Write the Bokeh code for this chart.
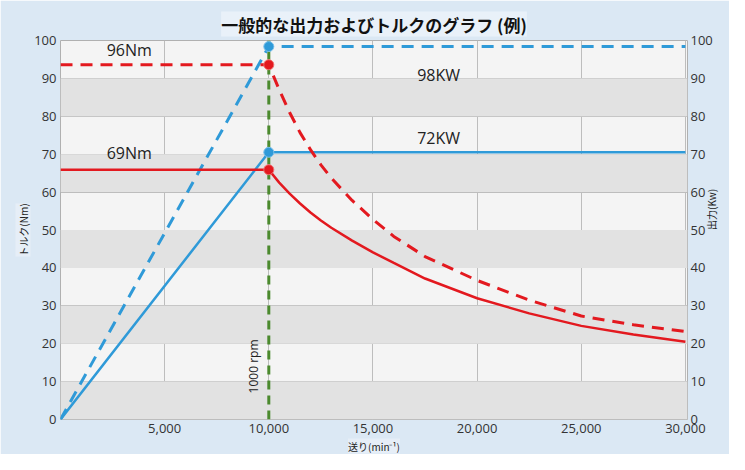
import math
from bokeh.plotting import figure
from bokeh.models import Range1d, LinearAxis, FixedTicker, NumeralTickFormatter, BoxAnnotation, Label, Title
from bokeh.embed import file_html
from bokeh.resources import INLINE

# ---- data ----
power_x = [0, 10000, 30000]
power_max = [0, 98.4, 98.4]        # kW (dashed blue)
power_rated = [0, 70.5, 70.5]      # kW (solid blue)

torque_x = [0, 10000, 10500, 11000, 11500, 12000, 12500, 13000, 14000, 15000, 16000, 17500, 20000, 22500, 25000, 27500, 30000]
torque_max = [93.6, 93.6, 87.0, 81.0, 75.7, 71.2, 67.2, 63.7, 57.8, 52.8, 48.3, 43.0, 36.7, 31.5, 27.3, 25.0, 23.2]
torque_rated = [65.9, 65.9, 62.5, 59.6, 57.0, 54.6, 52.5, 50.6, 47.2, 44.1, 41.3, 37.2, 32.0, 28.0, 24.7, 22.4, 20.5]

base_rpm = 10000
marker_x = [10000, 10000]
marker_power = [98.4, 70.5]
marker_torque = [93.6, 65.9]

y_ticks = [0, 10, 20, 30, 40, 50, 60, 70, 80, 90, 100]
x_ticks = [5000, 10000, 15000, 20000, 25000, 30000]
gray_bands = [0, 20, 40, 60, 80]

title_text = "一般的な出力およびトルクのグラフ (例)"
y_label = "トルク(Nm)"
y2_label = "出力(Kw)"
x_label = "送り(min⁻¹)"

BLUE = "#2f9ad8"
RED = "#e3191f"
GREEN = "#4b8a2e"
FONT = "Open Sans"
JP = "Noto Sans CJK JP"

p = figure(width=729, height=454, output_backend="svg", toolbar_location=None,
           x_range=Range1d(0, 30100), y_range=Range1d(0, 100),
           min_border_left=60, min_border_right=39, min_border_top=40, min_border_bottom=34)
p.border_fill_color = "#dbe8f4"
p.background_fill_color = "#f4f4f4"
p.outline_line_color = "#b0b0b0"

p.title.text = title_text
p.title.text_font = JP
p.title.text_font_size = "17px"
p.title.text_font_style = "bold"
p.title.text_color = "#111111"
p.title.align = "center"
p.title.standoff = 8
p.title.background_fill_color = "#e9f1f9"

for b in gray_bands:
    p.add_layout(BoxAnnotation(bottom=b, top=b + 10, fill_color="#e2e2e2", fill_alpha=1.0, line_alpha=0, level="underlay"))

p.xgrid.ticker = FixedTicker(ticks=x_ticks)
p.ygrid.ticker = FixedTicker(ticks=y_ticks)
p.xgrid.grid_line_color = "#bdbdbd"
p.ygrid.grid_line_color = "#bdbdbd"
p.xgrid.level = "underlay"
p.ygrid.level = "underlay"

p.extra_y_ranges = {"kw": Range1d(0, 100)}
right = LinearAxis(y_range_name="kw", ticker=FixedTicker(ticks=y_ticks))
p.add_layout(right, "right")

p.xaxis.ticker = FixedTicker(ticks=x_ticks)
p.xaxis.formatter = NumeralTickFormatter(format="0,0")
p.yaxis.ticker = FixedTicker(ticks=y_ticks)
for ax in p.axis:
    ax.axis_line_color = None
    ax.major_tick_line_color = None
    ax.minor_tick_line_color = None
    ax.major_tick_out = 0
    ax.major_tick_in = 0
    ax.minor_tick_out = 0
    ax.minor_tick_in = 0
    ax.major_label_text_font = FONT
    ax.major_label_text_font_size = "13px"
    ax.major_label_text_color = "#333333"
    ax.major_label_standoff = 4
right.major_label_standoff = 3

def side_title(text, place):
    t = Title(text=text, align="center", text_font=JP, text_font_size="10px",
              text_font_style="normal", text_color="#222222", standoff=2,
              background_fill_color="#e6eef7")
    p.add_layout(t, place)

side_title(y_label, "left")
if hasattr(right, "axis_label_orientation"):
    right.axis_label = y2_label
    right.axis_label_orientation = math.pi / 2
    right.axis_label_standoff = -4
    right.axis_label_text_font = JP
    right.axis_label_text_font_size = "10px"
    right.axis_label_text_font_style = "normal"
    right.axis_label_text_color = "#222222"
else:
    side_title(y2_label, "right")
side_title(x_label, "below")

# power lines
p.line(power_x, power_max, line_color=BLUE, line_width=3, line_dash="12 8")
p.line(power_x, power_rated, line_color=BLUE, line_width=2.5)
# torque lines
p.line(torque_x, torque_max, line_color=RED, line_width=3, line_dash="12 8")
p.line(torque_x, torque_rated, line_color=RED, line_width=2.5)
# base speed line
p.line([base_rpm, base_rpm], [0, 100], line_color=GREEN, line_width=3, line_dash="9 6")
# markers
p.scatter(marker_x, marker_power, size=10, fill_color=BLUE, line_color="#7cc0ea", line_width=1)
p.scatter(marker_x, marker_torque, size=10, fill_color=RED, line_color="#f07070", line_width=1)

def lab(x, y, t, size="16px", angle=0):
    p.add_layout(Label(x=x, y=y, text=t, text_font=FONT, text_font_size=size, text_color="#222222",
                       text_align="center", text_baseline="middle", angle=angle, angle_units="deg"))

lab(3300, 97.5, "96Nm")
lab(3300, 70.2, "69Nm")
lab(18150, 90.8, "98KW")
lab(18150, 74.2, "72KW")
lab(9250, 14.0, "1000 rpm", size="12px", angle=90)

open("out.html", "w").write(file_html(p, INLINE))
